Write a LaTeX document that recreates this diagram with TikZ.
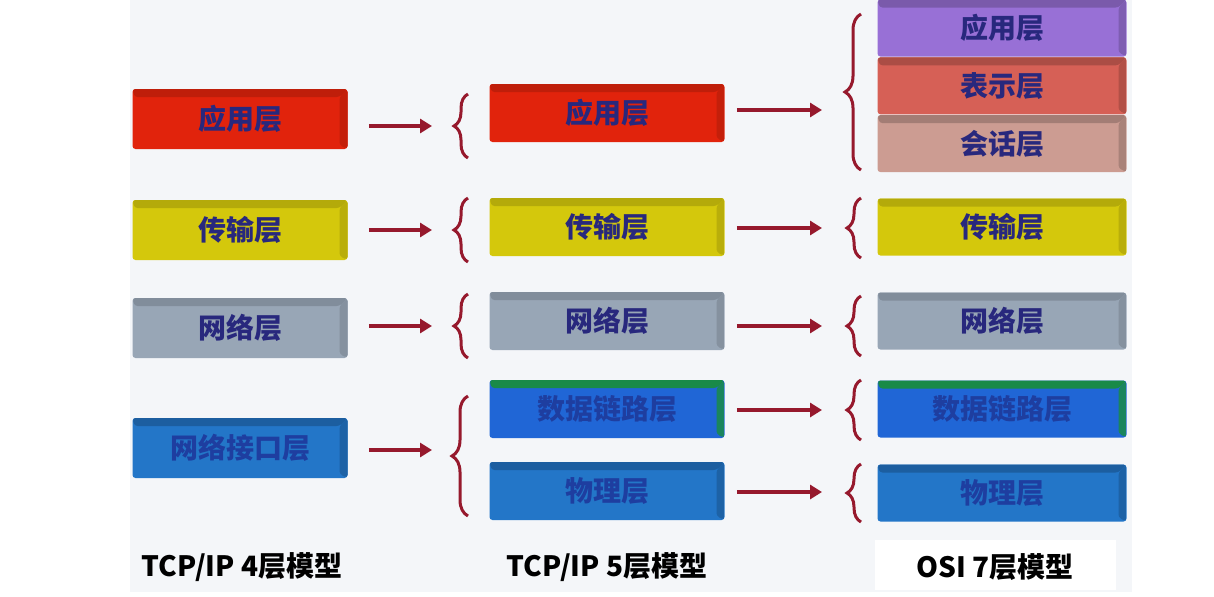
\documentclass[tikz,border=0pt]{standalone}
\usepackage{fontspec}
\usepackage{tikz}
\usetikzlibrary{arrows.meta, positioning, decorations.pathreplacing}
\newfontfamily\cjk{Noto Sans CJK SC}
\definecolor{appred}{RGB}{225, 35, 12}
\definecolor{transyellow}{RGB}{212, 200, 12}
\definecolor{netgray}{RGB}{152, 166, 182}
\definecolor{ifblue}{RGB}{35, 118, 200}
\definecolor{dlblue}{RGB}{32, 102, 214}
\definecolor{dlgreen}{RGB}{25, 138, 72}
\definecolor{osipurple}{RGB}{152, 112, 214}
\definecolor{osipres}{RGB}{214, 96, 86}
\definecolor{osisess}{RGB}{204, 156, 146}
\definecolor{bracered}{RGB}{150, 25, 45}
\definecolor{layertext}{RGB}{40, 40, 125}
\definecolor{bluetext}{RGB}{30, 62, 160}
\definecolor{paper}{RGB}{244, 246, 249}

\tikzset{
  layer/.style n args={2}{inner sep=0pt, fill=#1, rounded corners=1.5pt,
    text=layertext, font=\cjk\bfseries\fontsize{14}{14}\selectfont,
    path picture={
      \fill[#2] (path picture bounding box.north west) -- (path picture bounding box.north east)
        -- ([xshift=-4pt,yshift=-4pt]path picture bounding box.north east)
        -- ([xshift=1pt,yshift=-4pt]path picture bounding box.north west) -- cycle;
      \fill[#2!85!#1] (path picture bounding box.north east) -- (path picture bounding box.south east)
        -- ([xshift=-4pt,yshift=2pt]path picture bounding box.south east)
        -- ([xshift=-4pt,yshift=-4pt]path picture bounding box.north east) -- cycle;
    }},
  col4/.style={minimum width=107.5pt, minimum height=30pt},
  col5/.style={minimum width=117.5pt, minimum height=29pt},
  col7/.style={minimum width=124.5pt, minimum height=28.5pt},
  flow/.style={draw=bracered, line width=1.6pt, -{Triangle[length=6pt, width=7pt]}},
  brace/.style={draw=bracered, line width=1.5pt, decorate,
    decoration={brace, amplitude=#1}},
  brace/.default=7pt,
  caption/.style={font=\cjk\bfseries\fontsize{14}{14}\selectfont, text=black}
}

\begin{document}
\begin{tikzpicture}[x=0.5pt, y=-0.5pt]
    \useasboundingbox (0,0) rectangle (1214,596);
    \fill[white] (0,0) rectangle (1214,596);
    \fill[paper] (130,0) rectangle (1132,592);
    \fill[white] (875,540) rectangle (1116,590);

    % TCP/IP 4 layers
    \node[layer={appred}{appred!85!black}, col4] (t4app) at (240,119) {应用层};
    \node[layer={transyellow}{transyellow!85!black}, col4] (t4tr) at (240,230) {传输层};
    \node[layer={netgray}{netgray!85!black}, col4] (t4net) at (240,328) {网络层};
    \node[layer={ifblue}{ifblue!80!black}, col4, text=bluetext] (t4if) at (240,448) {网络接口层};

    % TCP/IP 5 layers
    \node[layer={appred}{appred!85!black}, col5] (t5app) at (607,113) {应用层};
    \node[layer={transyellow}{transyellow!85!black}, col5] (t5tr) at (607,227) {传输层};
    \node[layer={netgray}{netgray!85!black}, col5] (t5net) at (607,321) {网络层};
    \node[layer={dlblue}{dlgreen}, col5, text=bluetext] (t5dl) at (607,409) {数据链路层};
    \node[layer={ifblue}{ifblue!80!black}, col5, text=bluetext] (t5ph) at (607,491) {物理层};

    % OSI 7 layers
    \node[layer={osipurple}{osipurple!80!black}, col7] (o7app) at (1002,28) {应用层};
    \node[layer={osipres}{osipres!80!black}, col7, below=0pt of o7app] (o7pres) {表示层};
    \node[layer={osisess}{osisess!80!black}, col7, below=0pt of o7pres] (o7sess) {会话层};
    \node[layer={transyellow}{transyellow!85!black}, col7] (o7tr) at (1002,227) {传输层};
    \node[layer={netgray}{netgray!85!black}, col7] (o7net) at (1002,321) {网络层};
    \node[layer={dlblue}{dlgreen}, col7, text=bluetext] (o7dl) at (1002,409) {数据链路层};
    \node[layer={ifblue}{ifblue!80!black}, col7, text=bluetext] (o7ph) at (1002,493) {物理层};

    % braces
    \draw[brace] (468,158) -- (468,94);
    \draw[brace] (468,262) -- (468,198);
    \draw[brace] (468,358) -- (468,294);
    \draw[brace=8pt] (468,516) -- (468,396);
    \draw[brace=8pt] (861,170) -- (861,14);
    \draw[brace] (861,258) -- (861,198);
    \draw[brace] (861,356) -- (861,296);
    \draw[brace] (861,440) -- (861,380);
    \draw[brace] (861,522) -- (861,464);

    % arrow ends
    \coordinate (k1) at (432,126);
    \coordinate (k2) at (432,230);
    \coordinate (k3) at (432,326);
    \coordinate (k4) at (432,450);
    \coordinate (m1) at (822,110);
    \coordinate (m2) at (822,228);
    \coordinate (m3) at (822,326);
    \coordinate (m4) at (822,410);
    \coordinate (m5) at (822,492);

    \draw[flow, shorten <=10.5pt] (t4app.east |- k1) -- (k1);
    \draw[flow, shorten <=10.5pt] (t4tr.east |- k2) -- (k2);
    \draw[flow, shorten <=10.5pt] (t4net.east |- k3) -- (k3);
    \draw[flow, shorten <=10.5pt] (t4if.east |- k4) -- (k4);
    \draw[flow, shorten <=6pt] (t5app.east |- m1) -- (m1);
    \draw[flow, shorten <=6pt] (t5tr.east |- m2) -- (m2);
    \draw[flow, shorten <=6pt] (t5net.east |- m3) -- (m3);
    \draw[flow, shorten <=6pt] (t5dl.east |- m4) -- (m4);
    \draw[flow, shorten <=6pt] (t5ph.east |- m5) -- (m5);

    % captions
    \node[caption] (cap4) at (242,567) {TCP/IP 4层模型};
    \node[caption] (cap5) at (607,567) {TCP/IP 5层模型};
    \node[caption] (cap7) at (995,567) {OSI 7层模型};
\end{tikzpicture}
\end{document}
